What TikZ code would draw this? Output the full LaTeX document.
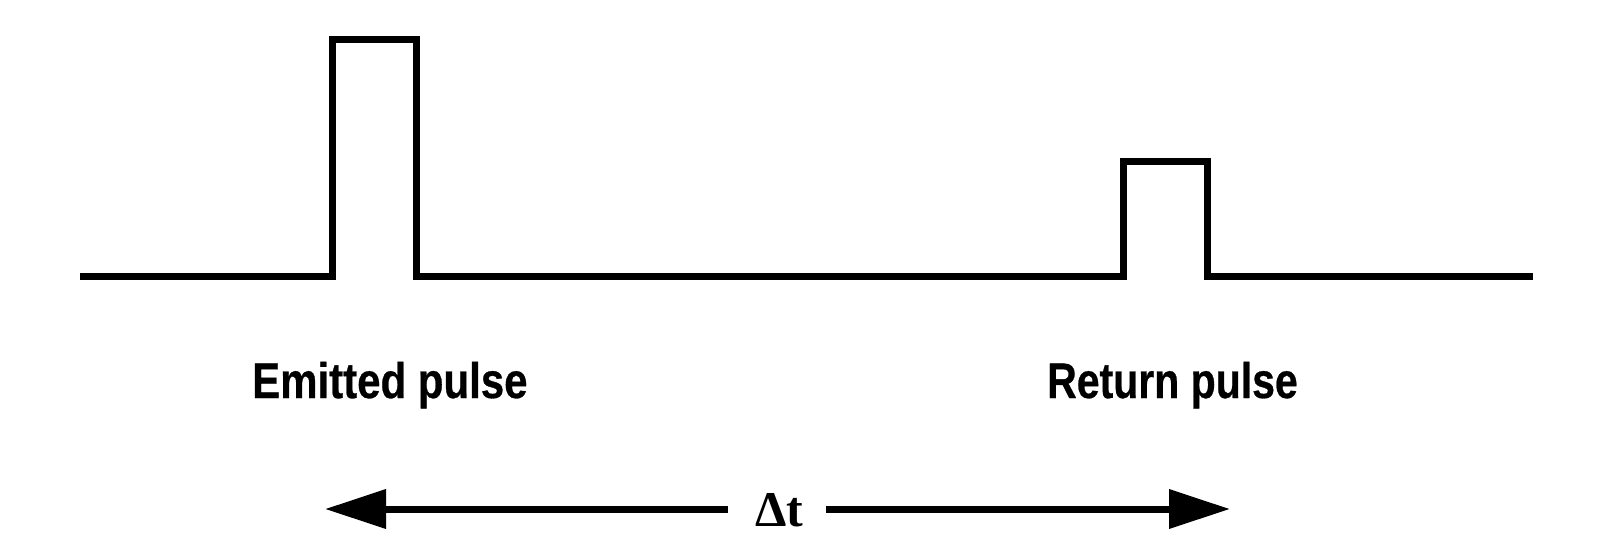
\documentclass[tikz,border=0pt]{standalone}
\usepackage{fontspec}
\setmainfont{Liberation Serif}
\newfontfamily\labelfont{Liberation Sans Bold}[FakeBold=0.6]
\usetikzlibrary{arrows.meta}
\tikzset{
  wave/.style={line width=7pt, line join=miter, line cap=butt},
  pulselabel/.style={anchor=base west, inner sep=0pt, font=\labelfont\fontsize{50}{54}\selectfont},
  dtlabel/.style={anchor=base, inner sep=0pt, font=\bfseries\fontsize{50}{54}\selectfont},
  dtarrow/.style={line width=7pt, -{Triangle[length=61pt,width=38pt]}}
}
\begin{document}
\begin{tikzpicture}[x=1pt,y=-1pt]
\useasboundingbox (0,0) rectangle (1600,558);
% waveform
\coordinate (w0) at (80,276);
\coordinate (e1) at (332,276);
\coordinate (e2) at (332,39.5);
\coordinate (e3) at (416,39.5);
\coordinate (e4) at (416,276);
\coordinate (r1) at (1123,276);
\coordinate (r2) at (1123,161.5);
\coordinate (r3) at (1207,161.5);
\coordinate (r4) at (1207,276);
\coordinate (w1) at (1533,276);
\draw[wave] (w0) -- (e1) -- (e2) -- (e3) -- (e4) -- (r1) -- (r2) -- (r3) -- (r4) -- (w1);
% labels
\node[pulselabel] (emitted) at (252,398) {\scalebox{0.84}[1]{Emitted pulse}};
\node[pulselabel] (return) at (1047,398) {\scalebox{0.82}[1]{Return pulse}};
% delta t
\node[dtlabel] (dt) at (779,526) {Δt};
\coordinate (lt) at (325,509);
\coordinate (rt) at (1230,509);
\coordinate (ls) at (728,509);
\coordinate (rs) at (826,509);
\draw[dtarrow] (ls) -- (lt);
\draw[dtarrow] (rs) -- (rt);
\end{tikzpicture}
\end{document}
